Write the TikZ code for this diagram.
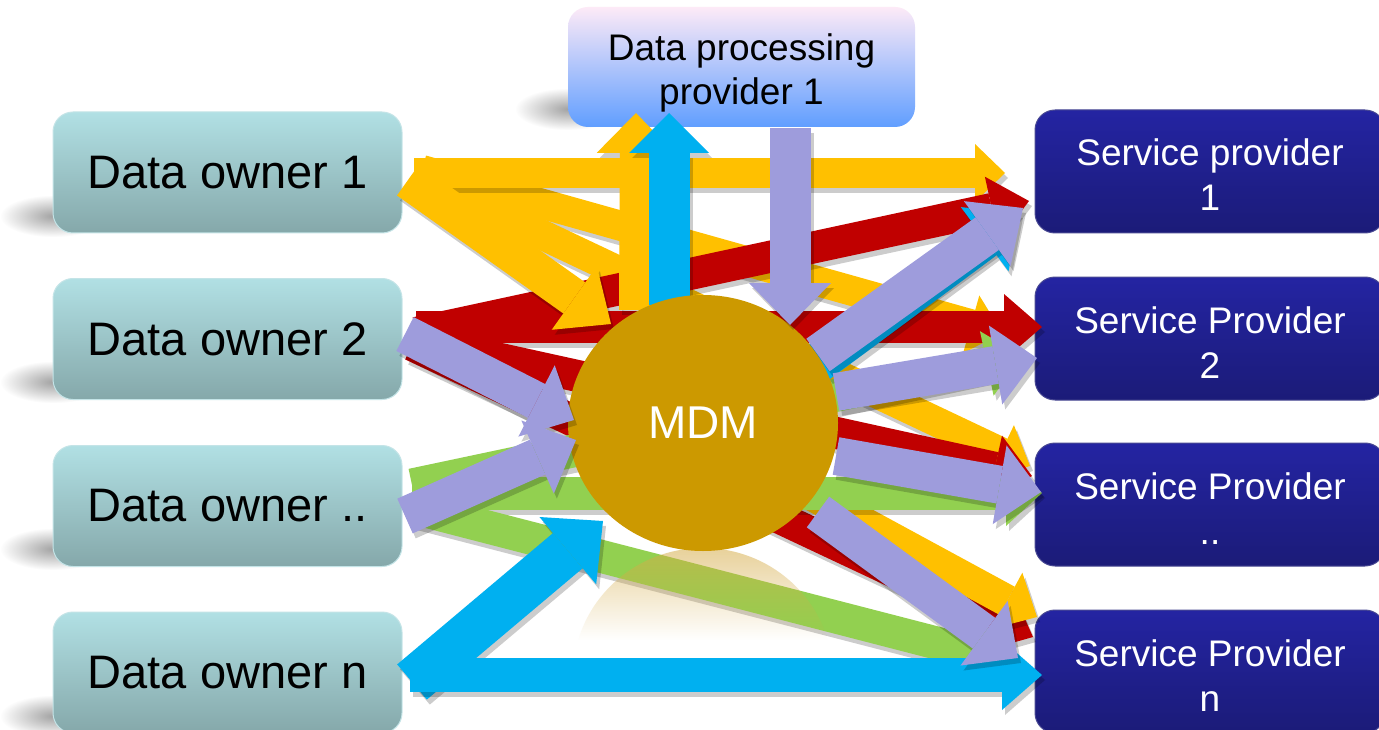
\documentclass[tikz,border=0pt]{standalone}
\usepackage{fontspec}
\setmainfont{Liberation Sans}
\usetikzlibrary{arrows.meta,fadings,shapes.geometric}
\definecolor{cyel}{RGB}{255,192,0}
\definecolor{cred}{RGB}{192,0,0}
\definecolor{cgrn}{RGB}{146,208,80}
\definecolor{ccya}{RGB}{0,176,240}
\definecolor{clav}{RGB}{158,156,220}
\definecolor{cmdm}{RGB}{204,153,0}
\definecolor{dotop}{RGB}{177,224,228}
\definecolor{dobot}{RGB}{133,168,170}
\definecolor{doedge}{RGB}{196,228,231}
\definecolor{sptop}{RGB}{36,36,162}
\definecolor{spbot}{RGB}{27,27,120}
\definecolor{dptop}{RGB}{253,234,247}
\definecolor{dpmid}{RGB}{150,200,250}
\definecolor{dpbot}{RGB}{96,158,255}
\definecolor{refc}{RGB}{214,172,72}
\tikzfading[name=smudge, inner color=transparent!0, outer color=transparent!100]
\tikzfading[name=reffade, top color=transparent!45, bottom color=transparent!100]
\tikzset{
  fatarrow/.style n args={3}{line width=#1,
    -{Triangle[length=#3,width=#2,line width=0pt]}},
  arrshadow/.style={color=black, opacity=0.2,
    transform canvas={shift={(3pt,-5pt)}}},
  boxshadow/.style={fill=black, opacity=0.36, path fading=smudge, draw=none},
  dobox/.style={rounded corners=20pt, minimum width=349pt, minimum height=121pt,
    inner sep=0pt, top color=dotop, bottom color=dobot, draw=doedge, line width=1pt,
    font=\fontsize{47}{52}\selectfont, text=black},
  spbox/.style={rounded corners=20pt, minimum width=350pt, minimum height=123pt,
    inner sep=0pt, top color=sptop, bottom color=spbot, draw=spbot!80!white,
    line width=1pt, align=center, text=white, font=\fontsize{37}{45}\selectfont},
  dppbox/.style={rounded corners=20pt, minimum width=347pt, minimum height=120pt,
    inner sep=0pt, top color=dptop, middle color=dpmid, bottom color=dpbot,
    draw=none, align=center, text=black, font=\fontsize{37}{44}\selectfont},
  mdmnode/.style={ellipse, minimum width=270pt, minimum height=256pt, inner sep=0pt,
    fill=cmdm, draw=none, text=white, font=\fontsize{46}{52}\selectfont}
}
\newcommand\farr[6]{%
  \draw[arrshadow, fatarrow={#2}{#3}{#4}] (#5) -- (#6);
  \draw[color=#1, fatarrow={#2}{#3}{#4}] (#5) -- (#6);}
\begin{document}
\begin{tikzpicture}[x=1pt,y=-1pt]
\clip (0,0) rectangle (1379,730);
\fill[white] (0,0) rectangle (1379,730);

% soft shadows of the boxes
\fill[boxshadow] (0,195) rectangle (106,237);
\fill[boxshadow] (0,361) rectangle (106,403);
\fill[boxshadow] (0,528) rectangle (106,570);
\fill[boxshadow] (0,695) rectangle (106,737);
\fill[boxshadow] (515,88) rectangle (621,130);

% boxes
\node[dobox] (do1) at (227.5,172.5) {Data owner 1\hspace{6pt}};
\node[dobox] (do2) at (227.5,339) {Data owner 2\hspace{6pt}};
\node[dobox] (do3) at (227.5,506) {Data owner ..\hspace{6pt}};
\node[dobox] (do4) at (227.5,672.5) {Data owner n\hspace{6pt}};
\node[spbox] (sp1) at (1210,171.5) {\rule{0pt}{34pt}Service provider\\1};
\node[spbox] (sp2) at (1210,338.5) {\rule{0pt}{34pt}Service Provider\\2};
\node[spbox] (sp3) at (1210,504.5) {\rule{0pt}{34pt}Service Provider\\..};
\node[spbox] (sp4) at (1210,671.5) {\rule{0pt}{34pt}Service Provider\\n};
\node[dppbox] (dpp) at (741.5,67) {\rule{0pt}{38pt}Data processing\\provider 1};

% coordinates
\coordinate (ya0) at (422,170); \coordinate (ya1) at (1002,333);
\coordinate (yb0) at (418,176); \coordinate (yb1) at (1030,466);
\coordinate (y10) at (414,173); \coordinate (y11) at (1005,173);
\coordinate (ym0) at (408,180); \coordinate (ym1) at (611,324);
\coordinate (yc0) at (720,445); \coordinate (yc1) at (1037,617);
\coordinate (yv0) at (635,310); \coordinate (yv1) at (636,113);
\coordinate (r10) at (416,333); \coordinate (r11) at (1029,201);
\coordinate (r20) at (416,327); \coordinate (r21) at (1042,327);
\coordinate (r30) at (414,340); \coordinate (r31) at (1032,476);
\coordinate (r40) at (412,345); \coordinate (r41) at (1033,637);
\coordinate (g10) at (412,485); \coordinate (g11) at (1022,356);
\coordinate (g20) at (412,493); \coordinate (g21) at (1042,493);
\coordinate (g30) at (414,508); \coordinate (g31) at (1010,662);
\coordinate (c10) at (412,682); \coordinate (c11) at (603,521);
\coordinate (c20) at (818,363); \coordinate (c21) at (1020,213);
\coordinate (c30) at (410,675); \coordinate (c31) at (1042,675);
\coordinate (c40) at (669,305); \coordinate (c41) at (669,113);
\coordinate (l10) at (405,334); \coordinate (l11) at (574,420);
\coordinate (l20) at (405,516); \coordinate (l21) at (576,440);
\coordinate (l30) at (790,128); \coordinate (l31) at (790,325);
\coordinate (l40) at (818,355); \coordinate (l41) at (1023,208);
\coordinate (l50) at (836,392); \coordinate (l51) at (1037,358);
\coordinate (l60) at (836,456); \coordinate (l61) at (1041,492);
\coordinate (l70) at (818,512); \coordinate (l71) at (1018,658);

% yellow fan
\farr{cyel}{30pt}{60pt}{32pt}{ya0}{ya1}
\farr{cyel}{30pt}{60pt}{32pt}{yb0}{yb1}
\farr{cyel}{30pt}{58pt}{30pt}{y10}{y11}
% red
\farr{cred}{32pt}{66pt}{38pt}{r10}{r11}
\farr{cred}{32pt}{66pt}{38pt}{r20}{r21}
\farr{cred}{32pt}{66pt}{38pt}{r30}{r31}
\farr{cred}{32pt}{66pt}{38pt}{r40}{r41}
% yellow to MDM and to SP n
\farr{cyel}{38pt}{78pt}{45pt}{ym0}{ym1}
\farr{cyel}{32pt}{64pt}{34pt}{yc0}{yc1}
% green
\farr{cgrn}{33pt}{66pt}{36pt}{g10}{g11}
\farr{cgrn}{33pt}{66pt}{36pt}{g20}{g21}
\farr{cgrn}{33pt}{66pt}{36pt}{g30}{g31}
% cyan behind
\farr{ccya}{40pt}{80pt}{44pt}{c20}{c21}
% verticals up
\farr{cyel}{32pt}{78pt}{40pt}{yv0}{yv1}
\farr{ccya}{41pt}{80pt}{40pt}{c40}{c41}

% reflection
\begin{scope}
  \clip (703,676) ellipse [x radius=130, y radius=128];
  \fill[refc, path fading=reffade, draw=none] (570,548) rectangle (836,640);
\end{scope}

% MDM
\node[mdmnode] (mdm) at (703,423) {MDM};

% cyan front
\farr{ccya}{46pt}{88pt}{46pt}{c10}{c11}
\farr{ccya}{34pt}{70pt}{40pt}{c30}{c31}
% lavender
\farr{clav}{38pt}{80pt}{42pt}{l10}{l11}
\farr{clav}{38pt}{80pt}{42pt}{l20}{l21}
\farr{clav}{41pt}{82pt}{42pt}{l30}{l31}
\farr{clav}{40pt}{80pt}{44pt}{l40}{l41}
\farr{clav}{38pt}{80pt}{42pt}{l50}{l51}
\farr{clav}{38pt}{80pt}{42pt}{l60}{l61}
\farr{clav}{38pt}{80pt}{42pt}{l70}{l71}
\end{tikzpicture}
\end{document}
